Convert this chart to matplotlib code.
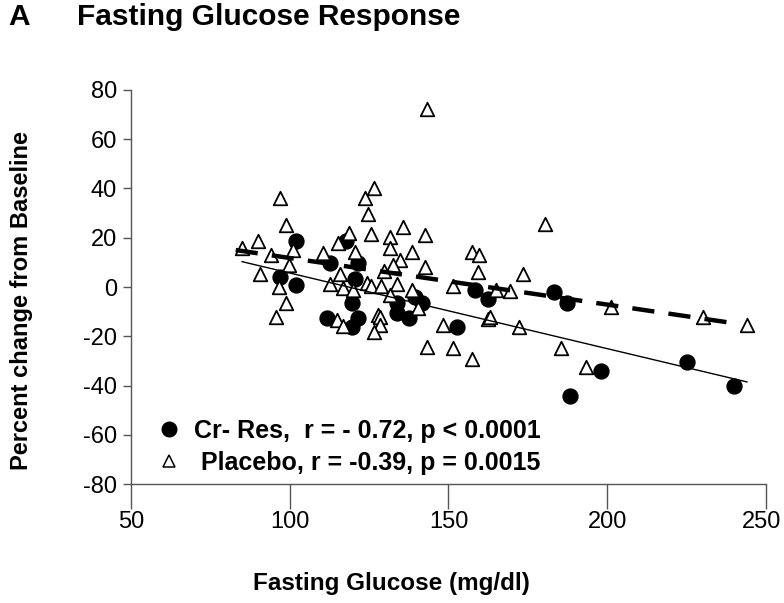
import matplotlib
matplotlib.use("Agg")
import matplotlib.pyplot as plt
import matplotlib.transforms as mtransforms
from matplotlib.lines import Line2D

plt.rcParams['font.family'] = ['Liberation Sans', 'DejaVu Sans']
plt.rcParams['axes.unicode_minus'] = False

# Cr-Res group (filled circles)
cr_glucose = [101.9, 117.7, 112.7, 121.6, 96.9, 101.9, 120.6, 119.5, 111.6, 121.6,
              119.7, 133.7, 139.4, 141.7, 133.7, 137.6, 152.6, 158.3, 162.5, 183.2,
              187.2, 188.3, 198.2, 225.2, 240.0]
cr_change = [18.7, 18.7, 9.6, 9.9, 4.2, 0.8, 3.1, -6.6, -12.7, -12.5,
             -16.1, -6.6, -4.2, -6.4, -10.7, -12.5, -16.1, -1.2, -4.9, -2.2,
             -6.6, -44.3, -34.1, -30.3, -40.2]

# Placebo group (open triangles)
pl_glucose = [143.4, 126.6, 123.7, 96.9, 124.7, 180.4, 98.8, 135.6, 118.8, 125.6,
              142.6, 131.6, 89.9, 115.3, 84.9, 101.1, 131.6, 157.3, 120.6, 138.6,
              110.6, 94.0, 159.6, 134.7, 99.9, 132.6, 142.6, 129.8, 159.4, 90.8,
              115.8, 173.4, 124.2, 133.7, 112.7, 96.7, 125.6, 128.7, 151.5, 116.9,
              120.0, 138.4, 164.9, 169.4, 131.6, 98.8, 201.2, 140.5, 127.9, 128.4,
              95.7, 114.8, 162.3, 163.1, 230.1, 116.7, 128.4, 148.4, 172.3, 244.1,
              126.6, 143.4, 151.5, 185.3, 157.5, 193.3]
pl_change = [72.2, 40.3, 36.3, 36.0, 29.5, 25.6, 25.2, 24.2, 21.8, 21.5,
             21.1, 20.4, 18.8, 17.7, 15.7, 15.0, 15.7, 14.3, 14.1, 14.1,
             13.7, 13.0, 13.0, 11.0, 8.9, 8.9, 8.2, 6.6, 6.2, 5.3,
             5.3, 5.1, 1.5, 1.2, 1.1, 0.1, 0.4, 0.4, 0.4, -0.5,
             -1.2, -1.2, -1.2, -1.5, -3.2, -6.4, -8.0, -8.7, -11.4, -12.1,
             -12.0, -13.4, -13.1, -12.3, -12.3, -15.8, -15.4, -15.4, -16.1, -15.4,
             -18.2, -24.5, -24.9, -24.9, -29.0, -32.4]

# trend lines (end points)
cr_fit_x = [85, 244]
cr_fit_y = [10.3, -38.5]
pl_fit_x = [83, 240]
pl_fit_y = [15.0, -14.7]

cr_label = "Cr- Res,  r = - 0.72, p < 0.0001"
pl_label = " Placebo, r = -0.39, p = 0.0015"

fig = plt.figure(figsize=(7.84, 6.03), dpi=100)
ax = fig.add_axes([0.167, 0.197, 0.810, 0.654])

ax.scatter(cr_glucose, cr_change, s=115, marker='o', color='black', zorder=2)
ax.scatter(pl_glucose, pl_change, s=95, marker='^', facecolor='white',
           edgecolor='black', linewidth=1.3, zorder=3)
ax.plot(cr_fit_x, cr_fit_y, color='black', lw=1.0, zorder=4)
ax.plot(pl_fit_x, pl_fit_y, color='black', lw=3.2, linestyle=(0, (5, 3.2)), zorder=4)

ax.set_xlim(50, 250)
ax.set_ylim(-80, 80)
ax.set_xticks([50, 100, 150, 200, 250])
ax.set_yticks(range(-80, 81, 20))
ax.spines['top'].set_visible(False)
ax.spines['right'].set_visible(False)
for s in ['left', 'bottom']:
    ax.spines[s].set_color('#555555')
    ax.spines[s].set_linewidth(1.0)
ax.tick_params(axis='x', direction='out', length=18, width=1.0, color='#555555',
               labelsize=17, pad=1)
ax.tick_params(axis='y', direction='out', length=6, width=1.0, color='#555555',
               labelsize=17, pad=4)

# nudge the last x tick label so it stays inside the figure
last = ax.get_xticklabels()[-1]
last.set_transform(last.get_transform() +
                   mtransforms.ScaledTranslation(-4 / 100, 0, fig.dpi_scale_trans))

ax.set_xlabel("Fasting Glucose (mg/dl)", fontsize=17.5, fontweight='bold', va='center')
ax.xaxis.set_label_coords(0.41, -0.251)
ax.set_ylabel("Percent change from Baseline", fontsize=17, fontweight='bold', va='center')
ax.yaxis.set_label_coords(-0.172, 0.467)

handles = [Line2D([], [], marker='o', color='black', linestyle='None', markersize=10.5),
           Line2D([], [], marker='^', markerfacecolor='white', markeredgecolor='black',
                  markeredgewidth=1.1, linestyle='None', markersize=9)]
ax.legend(handles, [cr_label, pl_label], loc='lower left', frameon=False,
          prop={'size': 18, 'weight': 'bold'}, handlelength=0.8, handletextpad=0.6,
          labelspacing=0.3, borderaxespad=0.2, bbox_to_anchor=(0.02, -0.014))

fig.text(0.010, 0.9585, "A", fontsize=21.5, fontweight='bold', va='baseline')
fig.text(0.098, 0.9585, "Fasting Glucose Response", fontsize=21.5, fontweight='bold', va='baseline')

fig.savefig("out.png", dpi=100)
